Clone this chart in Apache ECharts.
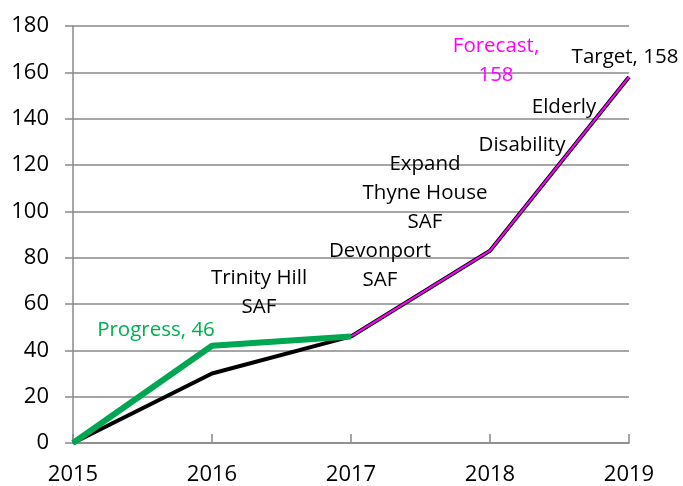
<!DOCTYPE html>
<html>
<head>
<meta charset="utf-8">
<script src="https://cdn.jsdelivr.net/npm/echarts@6/dist/echarts.min.js"></script>
<style>html,body{margin:0;padding:0;background:#fff;}#c{width:683px;height:486px;}</style>
</head>
<body>
<div id="c"></div>
<script>
const years = ['2015', '2016', '2017', '2018', '2019'];
const target = [0, 30, 46, 83, 158];
const forecast = [null, null, 46, 83, 158];
const progress = [0, 42, 46];
const yTicks = { min: 0, max: 180, interval: 20 };

const FONT = '"Open Sans", sans-serif';
const chart = echarts.init(document.getElementById('c'), null, { renderer: 'canvas' });

function txt(x, y, text, color) {
  return {
    type: 'text', x: x, y: y, z: 100,
    style: { text: text, fill: color, font: '20.5px ' + FONT, align: 'center', verticalAlign: 'middle', lineHeight: 29 }
  };
}

chart.setOption({
  animation: false,
  grid: { left: 73, right: 54, top: 26, bottom: 43, containLabel: false },
  xAxis: {
    type: 'category', data: years, boundaryGap: false,
    axisLine: { lineStyle: { color: '#898989', width: 1.5 } },
    axisTick: { show: true, inside: true, length: 9, lineStyle: { color: '#898989', width: 1.5 } },
    axisLabel: { color: '#000', fontFamily: FONT, fontSize: 22, margin: 21 },
    splitLine: { show: false }
  },
  yAxis: {
    type: 'value', min: yTicks.min, max: yTicks.max, interval: yTicks.interval,
    axisLine: { show: true, lineStyle: { color: '#898989', width: 1.5 } },
    axisTick: { show: true, length: 8, lineStyle: { color: '#898989', width: 1.5 } },
    axisLabel: { color: '#000', fontFamily: FONT, fontSize: 22, margin: 24 },
    splitLine: { lineStyle: { color: '#898989', width: 1.5 } }
  },
  series: [
    { name: 'Target', type: 'line', data: target, showSymbol: false, z: 2,
      lineStyle: { color: '#000', width: 4 } },
    { name: 'Forecast', type: 'line', data: forecast, showSymbol: false, z: 3,
      lineStyle: { color: '#ff00ff', width: 2 } },
    { name: 'Progress', type: 'line', data: progress, showSymbol: false, z: 4,
      lineStyle: { color: '#00a651', width: 6 } }
  ],
  graphic: [
    txt(156, 330, 'Progress, 46', '#00b050'),
    txt(259, 293, 'Trinity Hill\nSAF', '#000'),
    txt(380, 266, 'Devonport\nSAF', '#000'),
    txt(425, 193, 'Expand\nThyne House\nSAF', '#000'),
    txt(522, 145, 'Disability', '#000'),
    txt(564, 107, 'Elderly', '#000'),
    txt(496, 61, 'Forecast,\n158', '#ff00ff'),
    txt(625, 57, 'Target, 158', '#000')
  ]
});
</script>
</body>
</html>
